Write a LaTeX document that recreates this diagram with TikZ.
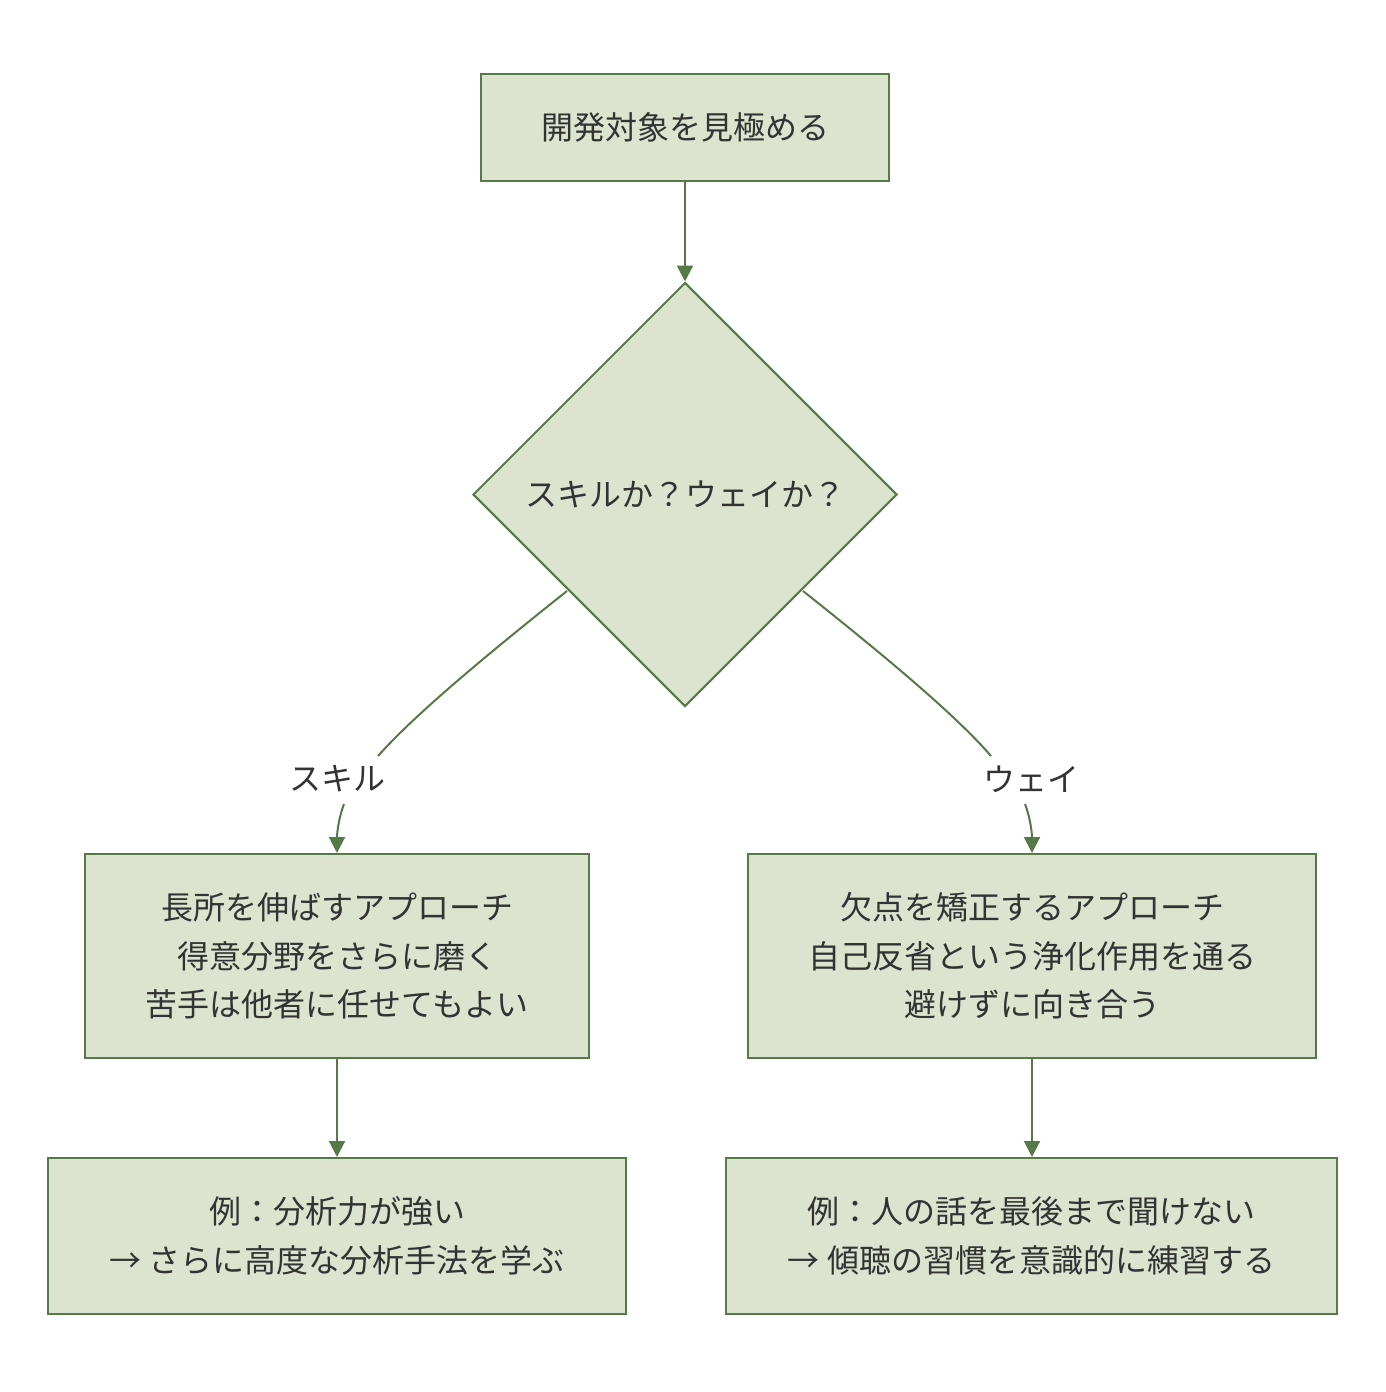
\documentclass[tikz,border=0pt]{standalone}
\usepackage{fontspec}
\setmainfont{Noto Sans CJK JP}
\usetikzlibrary{shapes.geometric,arrows.meta}
\definecolor{fillc}{HTML}{DCE4CF}
\definecolor{linec}{HTML}{557A47}
\definecolor{textc}{HTML}{333333}
\tikzset{
  box/.style={draw=linec, fill=fillc, line width=2pt, inner sep=0pt, align=center, text=textc},
  dia/.style={draw=linec, fill=fillc, line width=2pt, inner sep=0pt, diamond, aspect=1, minimum width=424pt, minimum height=424pt, text=textc},
  conn/.style={draw=linec, line width=2pt},
  arr/.style={conn, -{Triangle[length=16pt,width=16pt]}},
  lab/.style={text=textc, inner sep=0pt}
}
\begin{document}
\begin{tikzpicture}[x=1pt,y=-1pt,font=\fontsize{32}{48.5}\selectfont]
\useasboundingbox (0,0) rectangle (1386,1392);
\fill[white] (0,0) rectangle (1386,1392);

\node[box, minimum width=408pt, minimum height=107pt] (a) at (685,127.5) {開発対象を見極める};
\node[dia] (d) at (685,494.5) {スキルか？ウェイか？};

\node[box, minimum width=504pt, minimum height=204pt] (b1) at (337,956) {長所を伸ばすアプローチ\\得意分野をさらに磨く\\苦手は他者に任せてもよい};
\node[box, minimum width=568pt, minimum height=204pt] (b2) at (1032,956) {欠点を矯正するアプローチ\\自己反省という浄化作用を通る\\避けずに向き合う};

\node[box, minimum width=578pt, minimum height=156pt] (c1) at (337,1236) {例：分析力が強い\\→ さらに高度な分析手法を学ぶ};
\node[box, minimum width=611pt, minimum height=156pt] (c2) at (1031.5,1236) {例：人の話を最後まで聞けない\\→ 傾聴の習慣を意識的に練習する};

\node[lab] (l1) at (337,779) {スキル};
\node[lab] (l2) at (1031,779) {ウェイ};

\coordinate (s1) at (567,591);
\coordinate (e1) at (378,756);
\coordinate (f1) at (344,804);
\coordinate (s2) at (803,591);
\coordinate (e2) at (991,756);
\coordinate (f2) at (1025,804);

\draw[arr] (a.south) -- (d.north);
\draw[conn] (s1) .. controls (470,668) and (410,720) .. (e1);
\draw[arr] (f1) .. controls (338,820) and (337,835) .. (b1.north);
\draw[conn] (s2) .. controls (900,668) and (960,720) .. (e2);
\draw[arr] (f2) .. controls (1031,820) and (1032,835) .. (b2.north);
\draw[arr] (b1.south) -- (c1.north);
\draw[arr] (b2.south) -- (b2.south |- c2.north);
\end{tikzpicture}
\end{document}
